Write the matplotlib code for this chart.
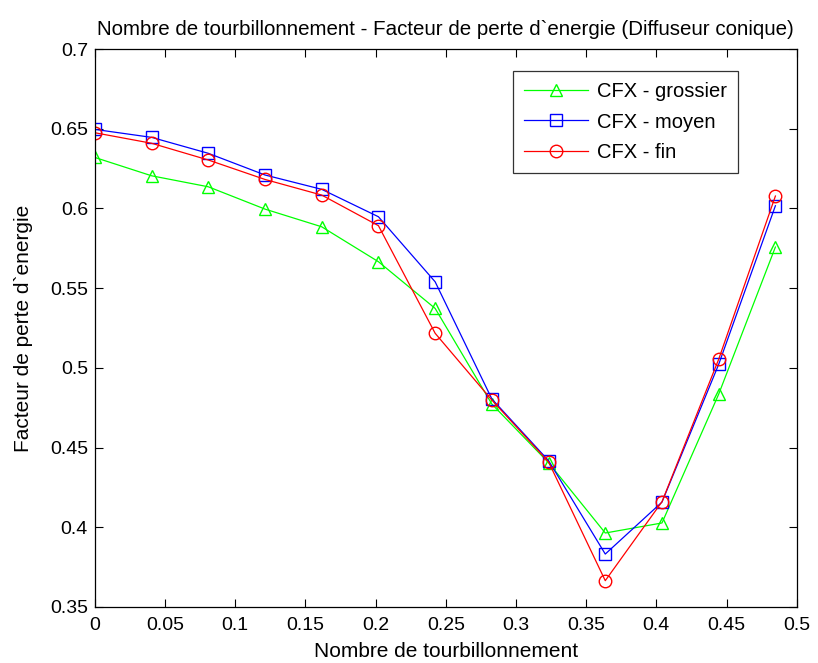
import matplotlib
matplotlib.use("Agg")
import matplotlib.pyplot as plt

# Swirl number and energy loss factor for three mesh resolutions
swirl = [0.0, 0.0404, 0.0808, 0.1212, 0.1616, 0.2020, 0.2424,
         0.2828, 0.3232, 0.3636, 0.4040, 0.4444, 0.4848]
grossier = [0.632, 0.6205, 0.6136, 0.5996, 0.5885, 0.5666, 0.5373,
            0.4773, 0.4405, 0.3964, 0.4027, 0.4835, 0.5758]
moyen = [0.6496, 0.6446, 0.6346, 0.6210, 0.6120, 0.5948, 0.5540,
         0.4805, 0.4418, 0.3832, 0.4158, 0.5022, 0.6017]
fin = [0.6475, 0.6409, 0.6304, 0.6182, 0.6084, 0.5892, 0.5217,
       0.4798, 0.4410, 0.3665, 0.4160, 0.5054, 0.6078]

labels = ["CFX - grossier", "CFX - moyen", "CFX - fin"]
xticks = [0, 0.05, 0.1, 0.15, 0.2, 0.25, 0.3, 0.35, 0.4, 0.45, 0.5]
yticks = [0.35, 0.4, 0.45, 0.5, 0.55, 0.6, 0.65, 0.7]

plt.rcParams["font.family"] = ["Liberation Sans", "DejaVu Sans"]

fig = plt.figure(figsize=(8.18, 6.63), dpi=100)
ax = fig.add_axes([0.116, 0.0845, 0.858, 0.8415])

lw = 0.9
ms = 9
ax.plot(swirl, grossier, color="#00ff00", marker="^", ms=ms, mfc="none",
        mec="#00ff00", lw=lw, mew=1.0, label=labels[0])
ax.plot(swirl, moyen, color="#0000ff", marker="s", ms=ms, mfc="none",
        mec="#0000ff", lw=lw, mew=1.0, label=labels[1])
ax.plot(swirl, fin, color="#ff0000", marker="o", ms=ms, mfc="none",
        mec="#ff0000", lw=lw, mew=1.0, label=labels[2])

ax.set_xlim(0, 0.5)
ax.set_ylim(0.35, 0.7)
ax.set_xticks(xticks)
ax.set_xticklabels([f"{t:g}" for t in xticks])
ax.set_yticks(yticks)
ax.set_yticklabels([f"{t:g}" for t in yticks])
ax.tick_params(direction="in", length=6, width=0.8, top=True, right=True,
               labelsize=14)
ax.tick_params(axis="y", pad=5)
ax.tick_params(axis="x", pad=7)
for s in ax.spines.values():
    s.set_linewidth(0.9)

ax.set_title("Nombre de tourbillonnement - Facteur de perte d`energie (Diffuseur conique)",
             fontsize=14.8, pad=10)
ax.set_xlabel("Nombre de tourbillonnement", fontsize=15, labelpad=6)
ax.set_ylabel("Facteur de perte d`energie", fontsize=15, labelpad=12)

leg = ax.legend(loc="upper right", bbox_to_anchor=(0.917, 0.96), fontsize=14.5,
                frameon=True, fancybox=False, edgecolor="black",
                handlelength=3.2, handletextpad=0.45, borderpad=0.55,
                labelspacing=0.55, borderaxespad=0.0)
leg.get_frame().set_linewidth(0.9)

fig.savefig("out.png", dpi=100)
